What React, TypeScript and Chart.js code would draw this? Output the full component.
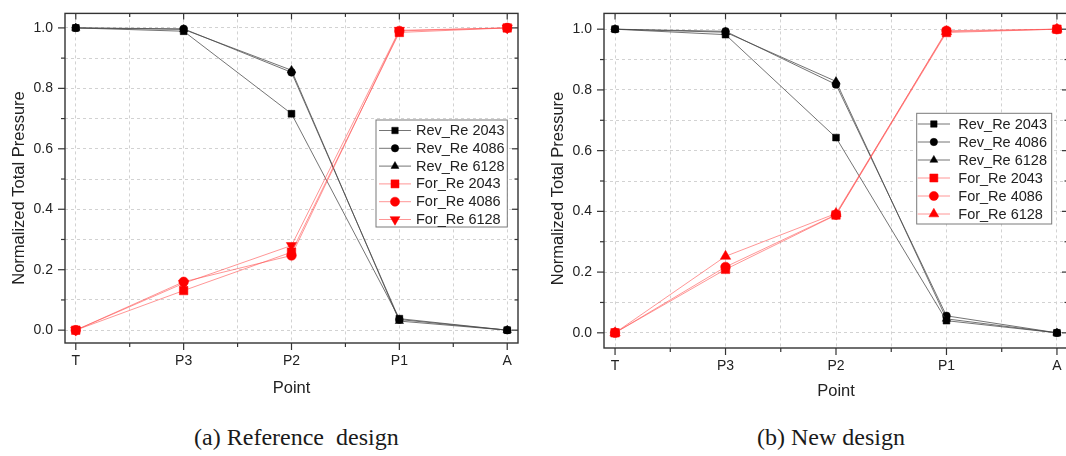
import React, { useEffect, useRef } from 'react';
import { Chart, registerables } from 'chart.js';
import { drawPoint } from 'chart.js/helpers';

Chart.register(...registerables);

const FONT = '"Liberation Sans", Arial, Helvetica, sans-serif';

const categories = ['T', 'P3', 'P2', 'P1', 'A'];
const seriesLabels = ['Rev_Re 2043', 'Rev_Re 4086', 'Rev_Re 6128', 'For_Re 2043', 'For_Re 4086', 'For_Re 6128'];
const xTitle = 'Point';
const yTitle = 'Normalized Total Pressure';
const captionAHead = '(a) Reference';
const captionATail = ' design';
const captionB = '(b) New design';

// (a) Reference design
const refRev2043 = [1.0, 0.989, 0.716, 0.038, 0.0];
const refRev4086 = [1.0, 0.997, 0.853, 0.035, 0.0];
const refRev6128 = [1.0, 0.995, 0.86, 0.03, 0.0];
const refFor2043 = [0.0, 0.131, 0.258, 0.985, 1.0];
const refFor4086 = [0.0, 0.16, 0.247, 0.99, 1.0];
const refFor6128 = [0.0, 0.155, 0.28, 0.992, 1.0];

// (b) New design
const newRev2043 = [1.0, 0.982, 0.643, 0.04, 0.0];
const newRev4086 = [1.0, 0.993, 0.818, 0.056, 0.0];
const newRev6128 = [1.0, 0.99, 0.828, 0.046, 0.0];
const newFor2043 = [0.0, 0.209, 0.388, 0.989, 1.0];
const newFor4086 = [0.0, 0.217, 0.389, 0.995, 1.0];
const newFor6128 = [0.0, 0.252, 0.393, 0.992, 1.0];

const REV_LINE = 'rgba(70,70,70,0.75)';
const FOR_LINE = 'rgba(255,80,80,0.6)';
const REV_MARK = '#000000';
const FOR_MARK = '#ff0000';

function makeDatasets(series: number[][], lastRotation: number) {
  return series.map((vals, i) => {
    const rev = i < 3;
    const style = ['rect', 'circle', 'triangle'][i % 3];
    const radius = rev ? [4.8, 3.9, 4.8][i % 3] : [6.0, 4.8, 6.0][i % 3];
    return {
      label: seriesLabels[i],
      data: vals.map((v, k) => ({ x: k, y: v })),
      borderColor: rev ? REV_LINE : FOR_LINE,
      borderWidth: 1,
      pointStyle: style,
      pointRotation: i === 5 ? lastRotation : 0,
      pointRadius: radius,
      pointBackgroundColor: rev ? REV_MARK : FOR_MARK,
      pointBorderColor: rev ? REV_MARK : FOR_MARK,
      pointBorderWidth: 0.5,
      tension: 0,
      fill: false,
      order: rev ? 1 : 0,
    };
  });
}

const framePlugin = {
  id: 'frame',
  afterDraw(chart: any, _args: any, opts: any) {
    const { ctx, chartArea: a, scales } = chart;
    const x = scales.x;
    const y = scales.y;
    ctx.save();
    ctx.fillStyle = '#222';
    ctx.font = `16.5px ${FONT}`;
    ctx.textAlign = 'center';
    ctx.textBaseline = 'middle';
    ctx.translate(opts.yTitleX, opts.yTitleY);
    ctx.rotate(-Math.PI / 2);
    ctx.fillText(yTitle, 0, 0);
    ctx.restore();

    ctx.save();
    ctx.strokeStyle = '#333';
    ctx.lineWidth = 1.4;
    ctx.strokeRect(a.left, a.top, a.right - a.left, a.bottom - a.top);
    ctx.lineWidth = 1.2;
    const seg = (x1: number, y1: number, x2: number, y2: number) => {
      ctx.beginPath();
      ctx.moveTo(x1, y1);
      ctx.lineTo(x2, y2);
      ctx.stroke();
    };
    x.ticks.forEach((t: any) => {
      const px = x.getPixelForValue(t.value);
      const major = Math.abs(t.value - Math.round(t.value)) < 1e-6;
      seg(px, a.bottom, px, a.bottom + (major ? 7 : 4));
      seg(px, a.top, px, a.top + (major ? 6 : 3.5));
    });
    y.ticks.forEach((t: any) => {
      const py = y.getPixelForValue(t.value);
      const major = Math.round(t.value * 10) % 2 === 0;
      seg(a.left - (major ? 7 : 4), py, a.left, py);
      seg(a.right - (major ? 6 : 3.5), py, a.right, py);
    });
    ctx.restore();
  },
};

const legendPlugin = {
  id: 'insideLegend',
  afterDraw(chart: any, _args: any, o: any) {
    const { ctx } = chart;
    ctx.save();
    ctx.fillStyle = '#ffffff';
    ctx.fillRect(o.left, o.top, o.width, o.height);
    ctx.strokeStyle = '#7a7a7a';
    ctx.lineWidth = 1;
    ctx.strokeRect(o.left, o.top, o.width, o.height);
    chart.data.datasets.forEach((ds: any, i: number) => {
      const yy = o.rowTop + i * o.rowGap;
      ctx.strokeStyle = ds.borderColor;
      ctx.lineWidth = 1;
      ctx.beginPath();
      ctx.moveTo(o.lineStart, yy);
      ctx.lineTo(o.lineEnd, yy);
      ctx.stroke();
      ctx.fillStyle = ds.pointBackgroundColor;
      ctx.strokeStyle = ds.pointBorderColor;
      ctx.lineWidth = 0.5;
      drawPoint(
        ctx,
        { pointStyle: ds.pointStyle, rotation: ds.pointRotation || 0, radius: ds.pointRadius * 0.95, borderWidth: 0.5 } as any,
        (o.lineStart + o.lineEnd) / 2,
        yy
      );
      ctx.fillStyle = '#222';
      ctx.font = `14.5px ${FONT}`;
      ctx.textAlign = 'left';
      ctx.textBaseline = 'middle';
      ctx.fillText(ds.label, o.textX, yy + 0.5);
    });
    ctx.restore();
  },
};

type Area = { left: number; right: number; top: number; bottom: number };

function PressureChart(props: {
  left: number;
  width: number;
  height: number;
  area: Area;
  yMin: number;
  yMax: number;
  series: number[][];
  lastRotation: number;
  legend: any;
  yTitlePos: { x: number; y: number };
  xTitlePad: number;
}) {
  const ref = useRef<HTMLCanvasElement | null>(null);
  useEffect(() => {
    const canvas = ref.current;
    if (!canvas) return;
    const { width, height, area } = props;
    const chart = new Chart(canvas, {
      type: 'line',
      data: { datasets: makeDatasets(props.series, props.lastRotation) as any },
      plugins: [framePlugin, legendPlugin],
      options: {
        responsive: false,
        animation: false,
        devicePixelRatio: 1,
        layout: { padding: { top: area.top, right: width - area.right, left: 0, bottom: 0 } },
        plugins: {
          legend: { display: false },
          tooltip: { enabled: false },
          frame: { yTitleX: props.yTitlePos.x, yTitleY: props.yTitlePos.y },
          insideLegend: props.legend,
        } as any,
        scales: {
          x: {
            type: 'linear',
            min: -0.1,
            max: 4.1,
            bounds: 'ticks',
            afterFit: (s: any) => {
              s.height = height - area.bottom;
            },
            grid: { color: '#d2d2d2', lineWidth: 1, drawTicks: true, tickLength: 7, tickColor: 'rgba(0,0,0,0)' },
            border: { display: false, dash: [3, 3] },
            ticks: {
              stepSize: 0.5,
              includeBounds: false,
              autoSkip: false,
              maxRotation: 0,
              padding: 3,
              color: '#222',
              font: { family: FONT, size: 14 },
              callback: (v: any) => {
                const n = Number(v);
                return Math.abs(n - Math.round(n)) < 1e-6 ? categories[Math.round(n)] : '';
              },
            },
            title: {
              display: true,
              text: xTitle,
              color: '#222',
              font: { family: FONT, size: 16.5 },
              padding: { top: 0, bottom: props.xTitlePad },
            },
          },
          y: {
            type: 'linear',
            min: props.yMin,
            max: props.yMax,
            bounds: 'ticks',
            afterFit: (s: any) => {
              s.width = area.left;
            },
            grid: { color: '#d2d2d2', lineWidth: 1, drawTicks: true, tickLength: 7, tickColor: 'rgba(0,0,0,0)' },
            border: { display: false, dash: [3, 3] },
            ticks: {
              stepSize: 0.1,
              includeBounds: false,
              autoSkip: false,
              padding: 5,
              color: '#222',
              font: { family: FONT, size: 14 },
              callback: (v: any) => {
                const k = Math.round(Number(v) * 10);
                return k % 2 === 0 ? (k / 10).toFixed(1) : '';
              },
            },
            title: { display: false },
          },
        },
      } as any,
    });
    return () => chart.destroy();
  }, []);
  return (
    <canvas
      ref={ref}
      width={props.width}
      height={props.height}
      style={{ position: 'absolute', left: props.left, top: 0, width: props.width, height: props.height }}
    />
  );
}

const captionStyle: React.CSSProperties = {
  position: 'absolute',
  top: 424.6,
  width: 300,
  textAlign: 'center',
  fontFamily: '"Liberation Serif", "Times New Roman", serif',
  fontSize: 24,
  lineHeight: '24px',
  color: '#1a1a1a',
  whiteSpace: 'pre',
};

export default function App() {
  return (
    <div
      style={{
        position: 'fixed',
        left: 0,
        top: 0,
        width: 1066,
        height: 456,
        background: '#ffffff',
        overflow: 'hidden',
      }}
    >
      <PressureChart
        left={0}
        width={536}
        height={410}
        area={{ left: 65, right: 518, top: 9.3, bottom: 343 }}
        yMin={-0.0425}
        yMax={1.048}
        series={[refRev2043, refRev4086, refRev6128, refFor2043, refFor4086, refFor6128]}
        lastRotation={180}
        legend={{ left: 376, top: 120, width: 131.3, height: 107, rowTop: 130.5, rowGap: 17.8, lineStart: 379, lineEnd: 411, textX: 416 }}
        yTitlePos={{ x: 19, y: 188 }}
        xTitlePad={12.1}
      />
      <PressureChart
        left={536}
        width={540}
        height={410}
        area={{ left: 68, right: 532, top: 5.5, bottom: 348 }}
        yMin={-0.05}
        yMax={1.052}
        series={[newRev2043, newRev4086, newRev6128, newFor2043, newFor4086, newFor6128]}
        lastRotation={0}
        legend={{ left: 380.7, top: 113.3, width: 135, height: 110.7, rowTop: 124, rowGap: 18, lineStart: 381.7, lineEnd: 414, textX: 422.3 }}
        yTitlePos={{ x: 22, y: 188.5 }}
        xTitlePad={8.4}
      />
      <div style={{ ...captionStyle, left: 146.4 }}>
        {captionAHead}
        <span style={{ marginLeft: 6 }}>{captionATail}</span>
      </div>
      <div style={{ ...captionStyle, left: 681 }}>{captionB}</div>
    </div>
  );
}
